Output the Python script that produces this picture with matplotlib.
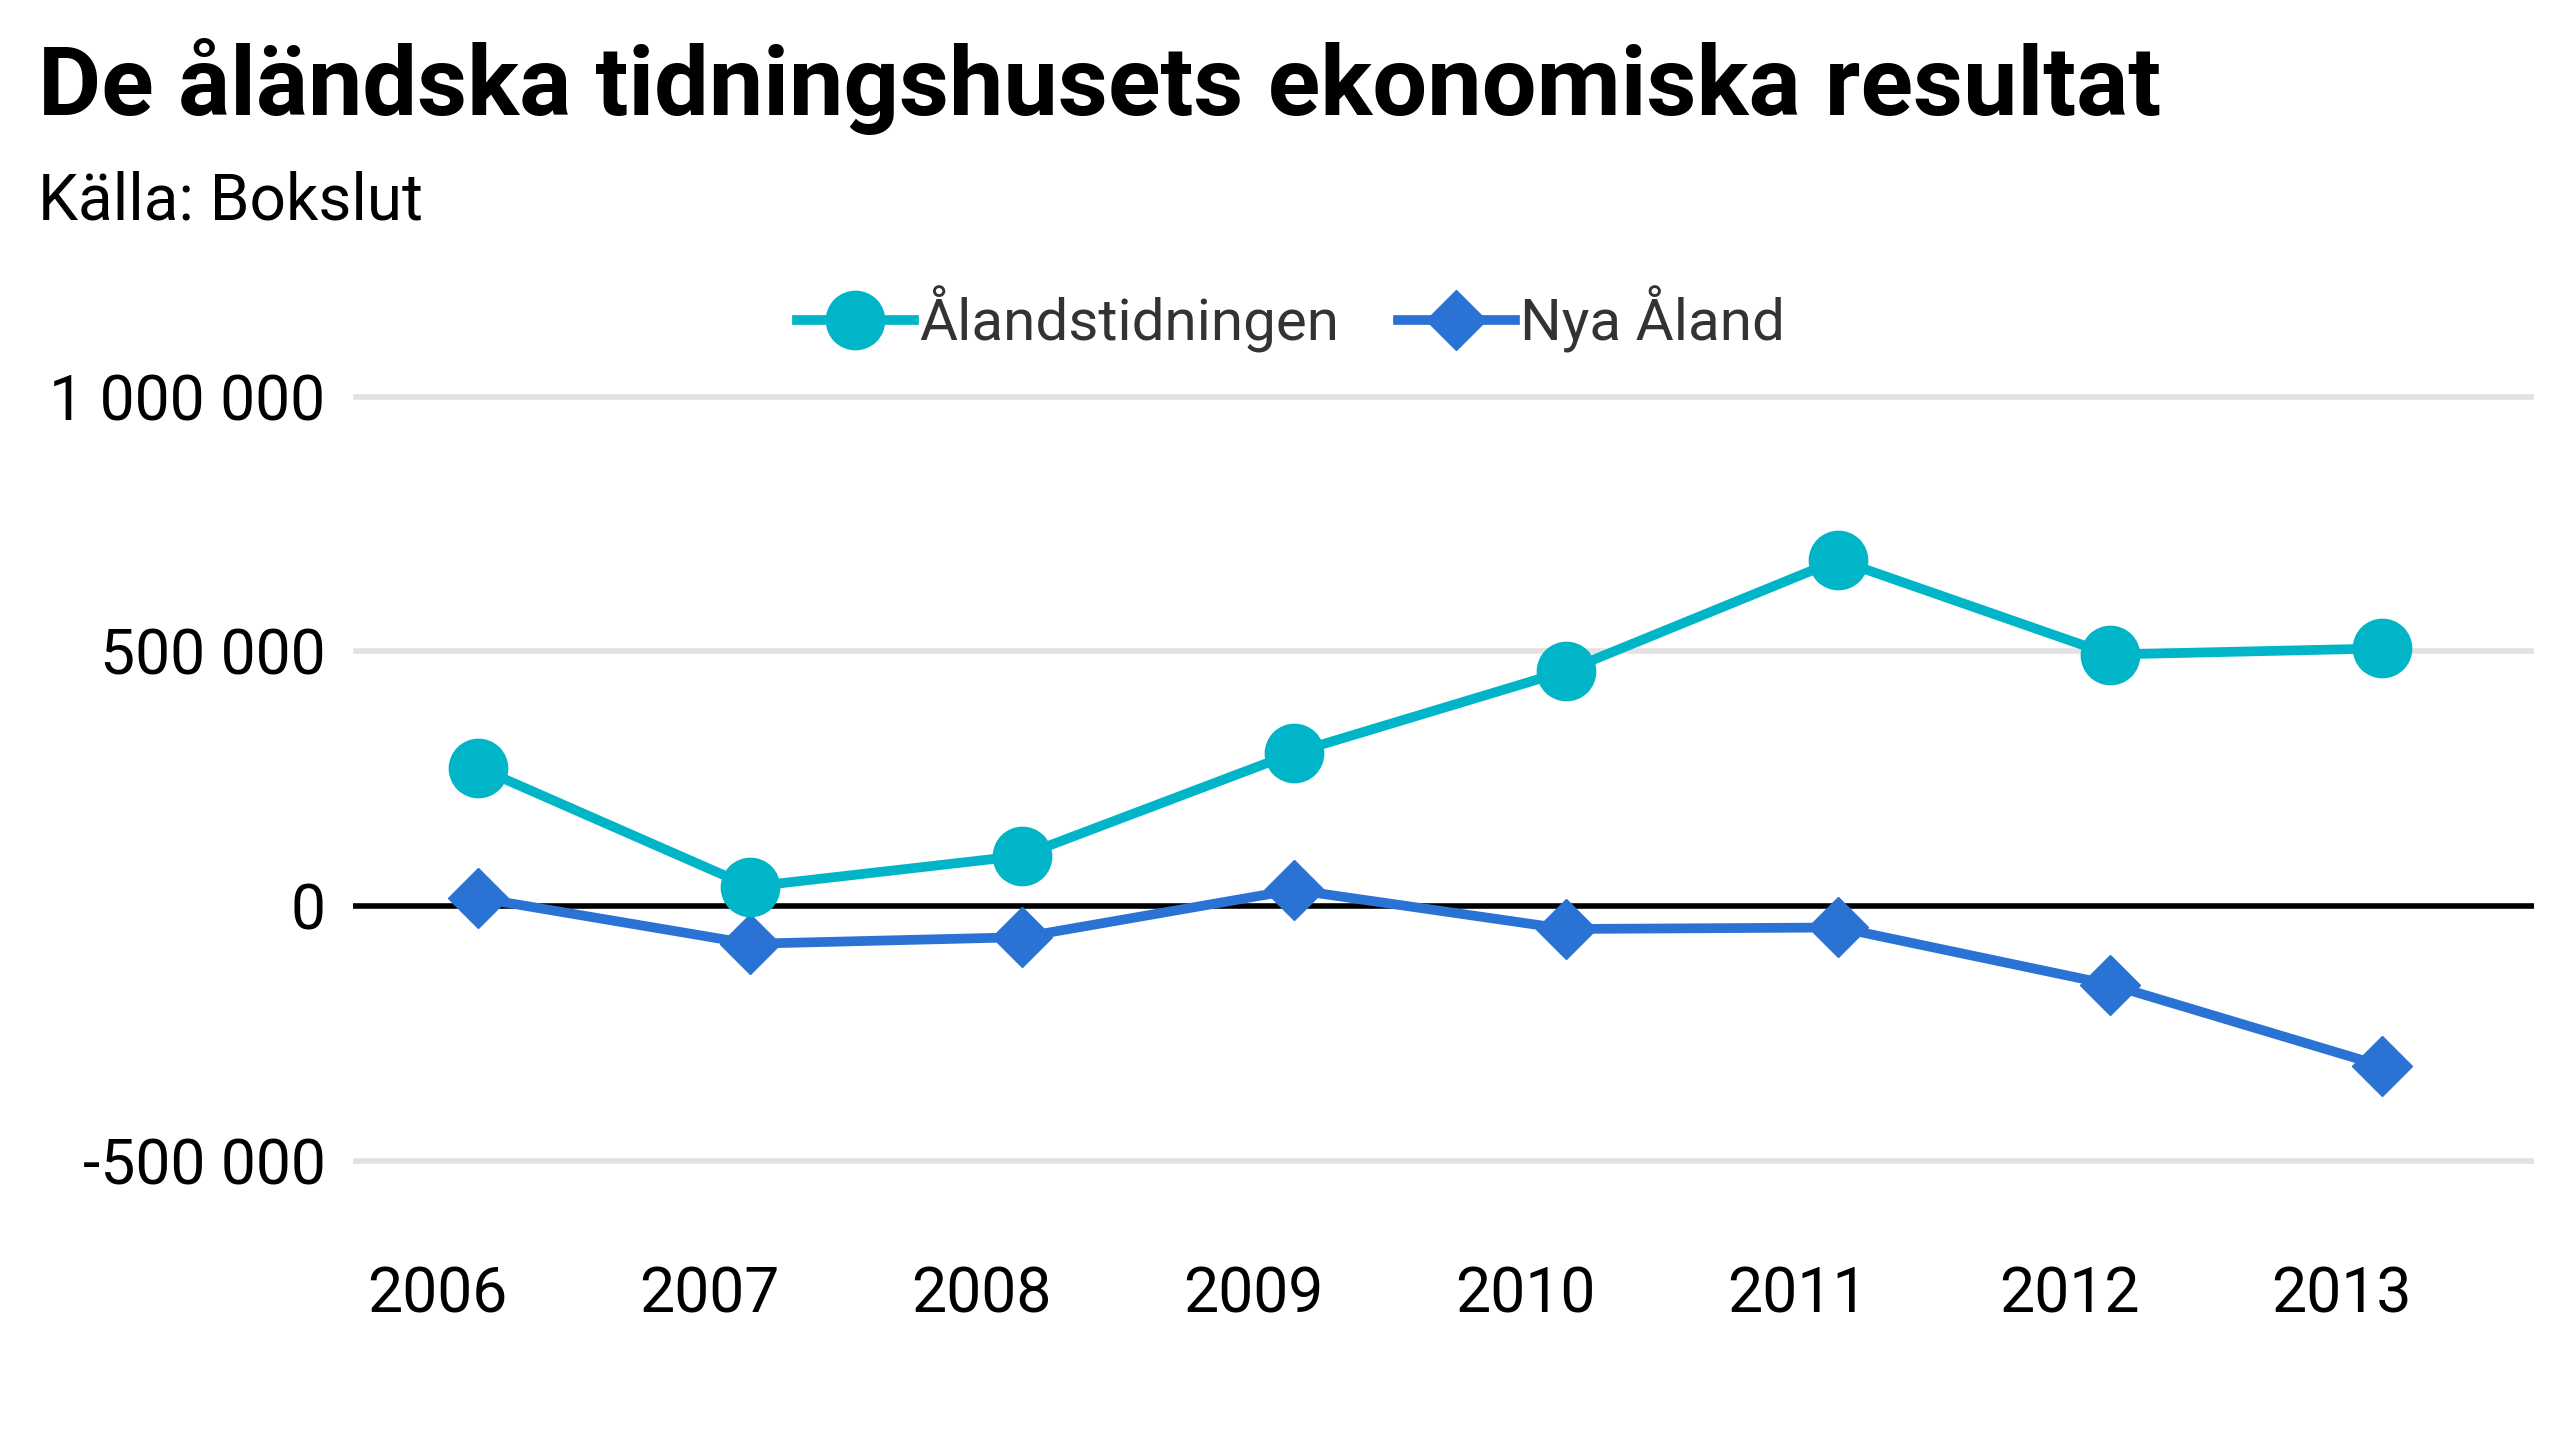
import matplotlib
matplotlib.use("Agg")
import matplotlib.pyplot as plt

years = ["2006", "2007", "2008", "2009", "2010", "2011", "2012", "2013"]
alandstidningen = [272000, 38000, 99000, 301000, 462000, 680000, 494000, 506000]
nya_aland = [16000, -74000, -61000, 32000, -45000, -42000, -154000, -314000]
yticks = [-500000, 0, 500000, 1000000]
ytick_labels = ["-500 000", "0", "500 000", "1 000 000"]

plt.rcParams["font.family"] = ["Liberation Sans Narrow", "Roboto", "DejaVu Sans"]

fig = plt.figure(figsize=(25.6, 14.4), dpi=100)
ax = fig.add_axes([0.138, 0.16, 0.852, 0.612])

x = list(range(len(years)))
ax.plot(x, alandstidningen, color="#00b5c8", lw=7, marker="o", ms=42,
        label="Ålandstidningen", zorder=4)
ax.plot(x, nya_aland, color="#2a73d5", lw=7, marker="D", ms=31,
        label="Nya Åland", zorder=3)

ax.set_xlim(-0.46, 7.56)
ax.set_ylim(-596000, 1134615)
ax.set_yticks(yticks)
ax.set_yticklabels(ytick_labels)
ax.set_xticks([i - 0.15 for i in x])
ax.set_xticklabels(years)
ax.grid(axis="y", color="#e2e2e2", lw=4)
ax.axhline(0, color="black", lw=4, zorder=2)
ax.set_axisbelow(True)
for s in ax.spines.values():
    s.set_visible(False)
ax.tick_params(length=0, labelsize=45, pad=20)
ax.tick_params(axis="x", pad=40)

ax.legend(loc="center", bbox_to_anchor=(0.43, 1.01), ncol=2, frameon=False,
          fontsize=42, handlelength=2.0, handletextpad=0.1, columnspacing=1.0,
          labelcolor="#333333")

fig.text(0.015, 0.94, "De åländska tidningshusets ekonomiska resultat",
         fontsize=70, fontweight="bold", va="center")
fig.text(0.015, 0.86, "Källa: Bokslut", fontsize=46, va="center")

fig.savefig("out.png", dpi=100, facecolor="white")
